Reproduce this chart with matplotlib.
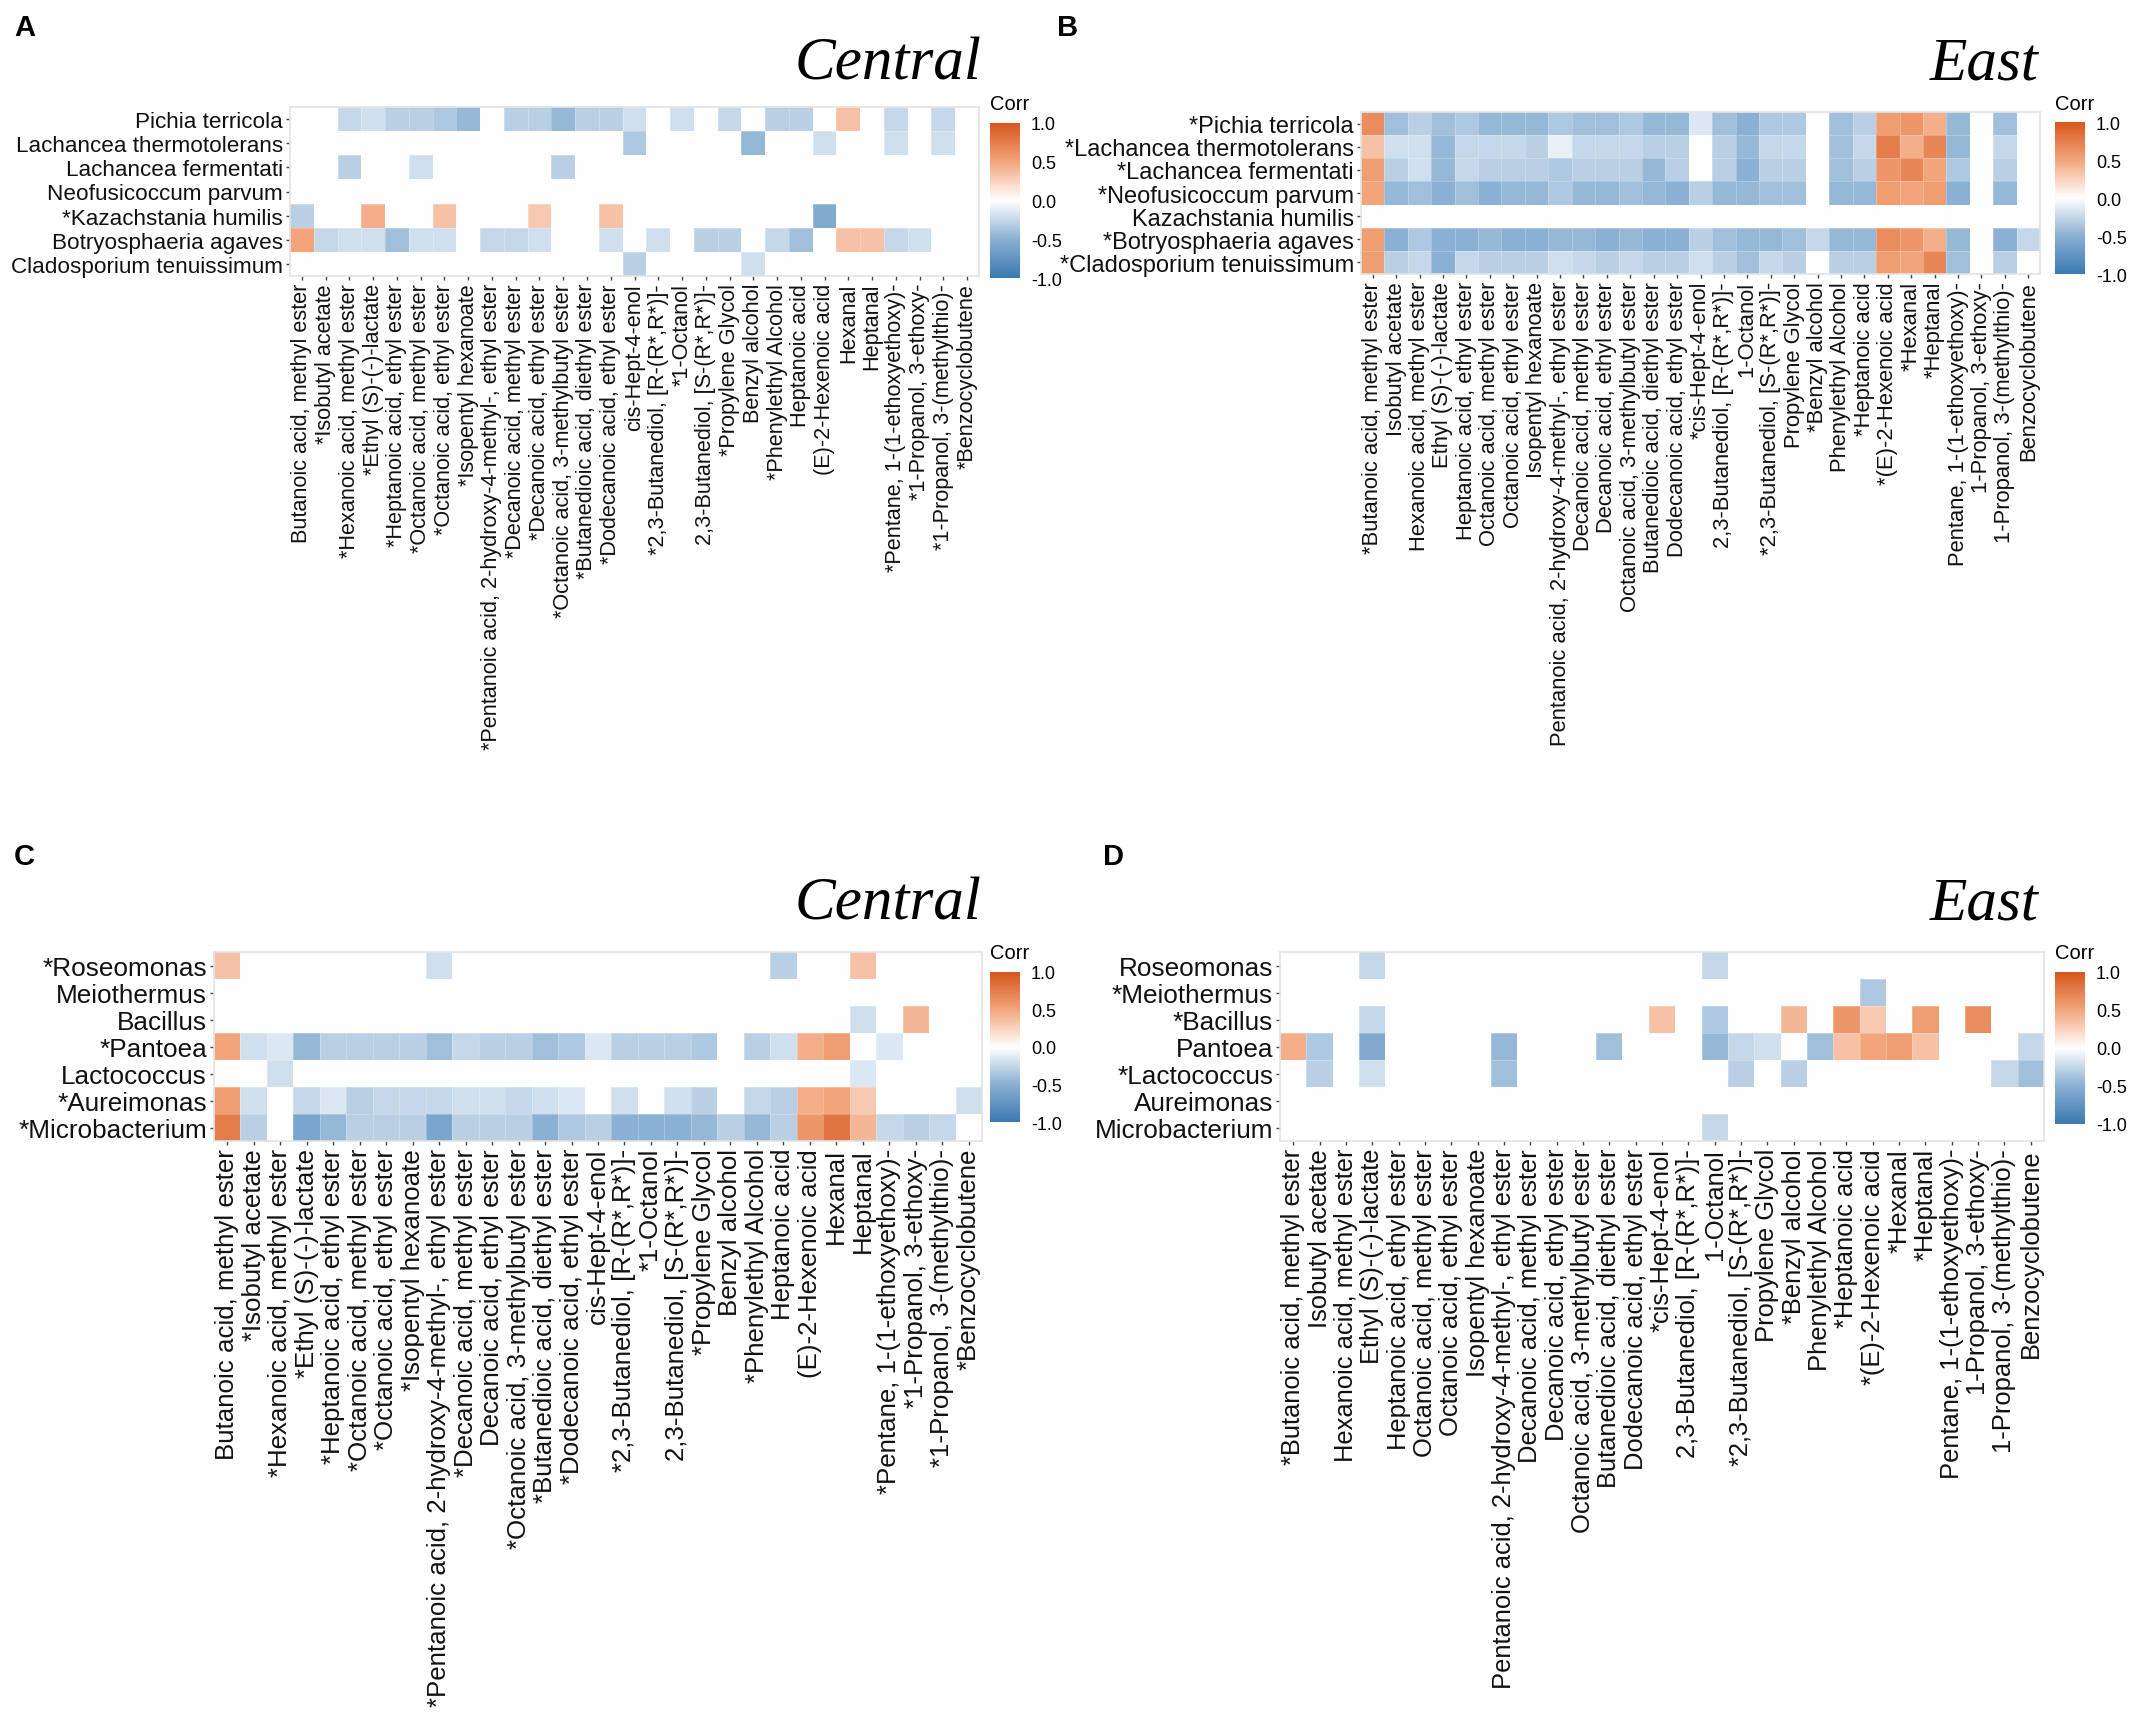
import numpy as np
import matplotlib
matplotlib.use("Agg")
import matplotlib.pyplot as plt
from matplotlib.colors import LinearSegmentedColormap

# ---------------- data ----------------
compounds_A = ["Butanoic acid, methyl ester", "*Isobutyl acetate", "*Hexanoic acid, methyl ester",
               "*Ethyl (S)-(-)-lactate", "*Heptanoic acid, ethyl ester", "*Octanoic acid, methyl ester",
               "*Octanoic acid, ethyl ester", "*Isopentyl hexanoate",
               "*Pentanoic acid, 2-hydroxy-4-methyl-, ethyl ester", "*Decanoic acid, methyl ester",
               "*Decanoic acid, ethyl ester", "*Octanoic acid, 3-methylbutyl ester",
               "*Butanedioic acid, diethyl ester", "*Dodecanoic acid, ethyl ester", "cis-Hept-4-enol",
               "*2,3-Butanediol, [R-(R*,R*)]-", "*1-Octanol", "2,3-Butanediol, [S-(R*,R*)]-",
               "*Propylene Glycol", "Benzyl alcohol", "*Phenylethyl Alcohol", "Heptanoic acid",
               "(E)-2-Hexenoic acid", "Hexanal", "Heptanal", "*Pentane, 1-(1-ethoxyethoxy)-",
               "*1-Propanol, 3-ethoxy-", "*1-Propanol, 3-(methylthio)-", "*Benzocyclobutene"]
compounds_B = ["*Butanoic acid, methyl ester", "Isobutyl acetate", "Hexanoic acid, methyl ester",
               "Ethyl (S)-(-)-lactate", "Heptanoic acid, ethyl ester", "Octanoic acid, methyl ester",
               "Octanoic acid, ethyl ester", "Isopentyl hexanoate",
               "Pentanoic acid, 2-hydroxy-4-methyl-, ethyl ester", "Decanoic acid, methyl ester",
               "Decanoic acid, ethyl ester", "Octanoic acid, 3-methylbutyl ester",
               "Butanedioic acid, diethyl ester", "Dodecanoic acid, ethyl ester", "*cis-Hept-4-enol",
               "2,3-Butanediol, [R-(R*,R*)]-", "1-Octanol", "*2,3-Butanediol, [S-(R*,R*)]-",
               "Propylene Glycol", "*Benzyl alcohol", "Phenylethyl Alcohol", "*Heptanoic acid",
               "*(E)-2-Hexenoic acid", "*Hexanal", "*Heptanal", "Pentane, 1-(1-ethoxyethoxy)-",
               "1-Propanol, 3-ethoxy-", "1-Propanol, 3-(methylthio)-", "Benzocyclobutene"]
compounds_C = ["Butanoic acid, methyl ester", "*Isobutyl acetate", "*Hexanoic acid, methyl ester",
               "*Ethyl (S)-(-)-lactate", "*Heptanoic acid, ethyl ester", "*Octanoic acid, methyl ester",
               "*Octanoic acid, ethyl ester", "*Isopentyl hexanoate",
               "*Pentanoic acid, 2-hydroxy-4-methyl-, ethyl ester", "*Decanoic acid, methyl ester",
               "Decanoic acid, ethyl ester", "*Octanoic acid, 3-methylbutyl ester",
               "*Butanedioic acid, diethyl ester", "*Dodecanoic acid, ethyl ester", "cis-Hept-4-enol",
               "*2,3-Butanediol, [R-(R*,R*)]-", "*1-Octanol", "2,3-Butanediol, [S-(R*,R*)]-",
               "*Propylene Glycol", "Benzyl alcohol", "*Phenylethyl Alcohol", "Heptanoic acid",
               "(E)-2-Hexenoic acid", "Hexanal", "Heptanal", "*Pentane, 1-(1-ethoxyethoxy)-",
               "*1-Propanol, 3-ethoxy-", "*1-Propanol, 3-(methylthio)-", "*Benzocyclobutene"]
compounds_D = list(compounds_B)

fungi_A = ["Pichia terricola", "Lachancea thermotolerans", "Lachancea fermentati", "Neofusicoccum parvum",
           "*Kazachstania humilis", "Botryosphaeria agaves", "Cladosporium tenuissimum"]
fungi_B = ["*Pichia terricola", "*Lachancea thermotolerans", "*Lachancea fermentati", "*Neofusicoccum parvum",
           "Kazachstania humilis", "*Botryosphaeria agaves", "*Cladosporium tenuissimum"]
bacteria_C = ["*Roseomonas", "Meiothermus", "Bacillus", "*Pantoea", "Lactococcus", "*Aureimonas", "*Microbacterium"]
bacteria_D = ["Roseomonas", "*Meiothermus", "*Bacillus", "Pantoea", "*Lactococcus", "Aureimonas", "Microbacterium"]

corr_A = [
    [0, 0, -0.25, -0.2, -0.3, -0.3, -0.35, -0.45, 0, -0.3, -0.3, -0.45, -0.3, -0.3, -0.2, 0, -0.2, 0, -0.25, 0, -0.3, -0.3, 0, 0.35, 0, -0.25, 0, -0.25, 0],
    [0, 0, 0, 0, 0, 0, 0, 0, 0, 0, 0, 0, 0, 0, -0.35, 0, 0, 0, 0, -0.45, 0, 0, -0.2, 0, 0, -0.2, 0, -0.2, 0],
    [0, 0, -0.3, 0, 0, -0.2, 0, 0, 0, 0, 0, -0.3, 0, 0, 0, 0, 0, 0, 0, 0, 0, 0, 0, 0, 0, 0, 0, 0, 0],
    [0] * 29,
    [-0.3, 0, 0, 0.45, 0, 0, 0.35, 0, 0, 0, 0.3, 0, 0, 0.35, 0, 0, 0, 0, 0, 0, 0, 0, -0.55, 0, 0, 0, 0, 0, 0],
    [0.5, -0.25, -0.2, -0.2, -0.4, -0.2, -0.2, 0, -0.25, -0.25, -0.2, 0, 0, -0.2, 0, -0.2, 0, -0.3, -0.3, 0, -0.25, -0.4, 0, 0.35, 0.35, -0.25, -0.2, 0, 0],
    [0, 0, 0, 0, 0, 0, 0, 0, 0, 0, 0, 0, 0, 0, -0.3, 0, 0, 0, 0, -0.2, 0, 0, 0, 0, 0, 0, 0, 0, 0],
]
corr_B = [
    [0.65, -0.4, -0.3, -0.4, -0.35, -0.45, -0.45, -0.45, -0.35, -0.4, -0.4, -0.35, -0.45, -0.45, -0.15, -0.4, -0.5, -0.35, -0.35, 0, -0.4, -0.3, 0.55, 0.6, 0.45, -0.45, 0, -0.4, 0],
    [0.35, -0.2, -0.2, -0.45, -0.25, -0.25, -0.25, -0.3, -0.1, -0.25, -0.25, -0.25, -0.3, -0.3, 0, -0.3, -0.45, -0.25, -0.25, 0, -0.4, -0.25, 0.75, 0.45, 0.7, -0.45, 0, -0.25, 0],
    [0.55, -0.3, -0.2, -0.45, -0.25, -0.3, -0.3, -0.3, -0.35, -0.3, -0.3, -0.3, -0.45, -0.3, 0, -0.3, -0.5, -0.3, -0.3, 0, -0.4, -0.3, 0.6, 0.7, 0.5, -0.35, 0, -0.3, 0],
    [0.5, -0.45, -0.4, -0.5, -0.4, -0.5, -0.45, -0.45, -0.35, -0.45, -0.45, -0.4, -0.45, -0.5, -0.3, -0.45, -0.45, -0.4, -0.4, 0, -0.45, -0.45, 0.55, 0.5, 0.55, -0.5, 0, -0.45, 0],
    [0] * 29,
    [0.55, -0.5, -0.35, -0.5, -0.5, -0.45, -0.5, -0.5, -0.45, -0.45, -0.5, -0.45, -0.5, -0.5, -0.3, -0.4, -0.45, -0.45, -0.4, -0.25, -0.45, -0.45, 0.65, 0.6, 0.45, -0.45, 0, -0.5, -0.25],
    [0.55, -0.3, -0.25, -0.5, -0.25, -0.3, -0.3, -0.3, -0.2, -0.25, -0.3, -0.25, -0.3, -0.3, -0.2, -0.3, -0.4, -0.25, -0.3, 0, -0.3, -0.3, 0.55, 0.5, 0.7, -0.4, 0, -0.3, 0],
]
corr_C = [
    [0.35, 0, 0, 0, 0, 0, 0, 0, -0.2, 0, 0, 0, 0, 0, 0, 0, 0, 0, 0, 0, 0, -0.3, 0, 0, 0.35, 0, 0, 0, 0],
    [0] * 29,
    [0, 0, 0, 0, 0, 0, 0, 0, 0, 0, 0, 0, 0, 0, 0, 0, 0, 0, 0, 0, 0, 0, 0, 0, -0.2, 0, 0.4, 0, 0],
    [0.5, -0.2, -0.15, -0.45, -0.3, -0.3, -0.3, -0.3, -0.4, -0.25, -0.3, -0.3, -0.4, -0.35, -0.15, -0.3, -0.3, -0.3, -0.35, 0, -0.3, -0.2, 0.45, 0.55, 0, -0.15, 0, 0, 0],
    [0, 0, -0.2, 0, 0, 0, 0, 0, 0, 0, 0, 0, 0, 0, 0, 0, 0, 0, 0, 0, 0, 0, 0, 0, -0.15, 0, 0, 0, 0],
    [0.55, -0.2, 0, -0.25, -0.15, -0.3, -0.25, -0.25, -0.25, -0.2, -0.2, -0.25, -0.2, -0.15, 0, -0.2, 0, -0.2, -0.3, 0, -0.25, -0.3, 0.45, 0.5, 0.3, 0, 0, 0, -0.2],
    [0.75, -0.3, 0, -0.6, -0.45, -0.3, -0.3, -0.3, -0.6, -0.3, -0.3, -0.3, -0.5, -0.35, -0.3, -0.5, -0.5, -0.5, -0.45, -0.3, -0.45, -0.3, 0.6, 0.8, 0.4, -0.25, -0.3, -0.25, 0],
]
corr_D = [
    [0, 0, 0, -0.25, 0, 0, 0, 0, 0, 0, 0, 0, 0, 0, 0, 0, -0.25, 0, 0, 0, 0, 0, 0, 0, 0, 0, 0, 0, 0],
    [0, 0, 0, 0, 0, 0, 0, 0, 0, 0, 0, 0, 0, 0, 0, 0, 0, 0, 0, 0, 0, 0, -0.35, 0, 0, 0, 0, 0, 0],
    [0, 0, 0, -0.25, 0, 0, 0, 0, 0, 0, 0, 0, 0, 0, 0.35, 0, -0.35, 0, 0, 0.4, 0, 0.6, 0.3, 0, 0.55, 0, 0.65, 0, 0],
    [0.45, -0.35, 0, -0.55, 0, 0, 0, 0, -0.45, 0, 0, 0, -0.4, 0, 0, 0, -0.45, -0.25, -0.2, 0, -0.4, 0.35, 0.5, 0.55, 0.35, 0, 0, 0, -0.25],
    [0, -0.3, 0, -0.2, 0, 0, 0, 0, -0.4, 0, 0, 0, 0, 0, 0, 0, 0, -0.3, 0, -0.3, 0, 0, 0, 0, 0, 0, 0, -0.25, -0.4],
    [0] * 29,
    [0, 0, 0, 0, 0, 0, 0, 0, 0, 0, 0, 0, 0, 0, 0, 0, -0.25, 0, 0, 0, 0, 0, 0, 0, 0, 0, 0, 0, 0],
]

cbar_ticks = [1.0, 0.5, 0.0, -0.5, -1.0]

# ---------------- styling ----------------
W, H = 2131, 1724
fig = plt.figure(figsize=(W / 100, H / 100), dpi=100)
fig.patch.set_facecolor("white")

cmap = LinearSegmentedColormap.from_list(
    "corr", [(0.0, "#3B79B1"), (0.25, "#8AB0D3"), (0.5, "#FFFFFF"), (0.75, "#F2A67C"), (1.0, "#D6561D")])

SANS = ["Liberation Sans", "DejaVu Sans"]
SERIF = ["Liberation Serif", "DejaVu Serif"]


def add_ax(x0, y0, x1, y1):
    return fig.add_axes([x0 / W, 1 - y1 / H, (x1 - x0) / W, (y1 - y0) / H])


def heat(box, data, rows, cols, xfs, yfs, cbox, title, title_pos, letter, letter_pos, corr_pos):
    ax = add_ax(*box)
    arr = np.array(data, dtype=float)
    ax.pcolormesh(np.arange(arr.shape[1] + 1), np.arange(arr.shape[0] + 1), arr,
                  cmap=cmap, vmin=-1, vmax=1, edgecolors=(1, 1, 1, 0.25), linewidth=0.6)
    ax.set_xlim(0, arr.shape[1])
    ax.set_ylim(arr.shape[0], 0)
    ax.set_xticks(np.arange(arr.shape[1]) + 0.5)
    ax.set_yticks(np.arange(arr.shape[0]) + 0.5)
    ax.set_xticklabels(cols, rotation=90, ha="center", va="top", fontsize=xfs, family=SANS, color="#111111")
    ax.set_yticklabels(rows, fontsize=yfs, family=SANS, color="#111111")
    ax.tick_params(length=3, width=1, color="#444444", pad=2)
    for s in ax.spines.values():
        s.set_color("#E3E3E3")
        s.set_linewidth(1.2)
    # colorbar
    cax = add_ax(*cbox)
    sm = plt.cm.ScalarMappable(cmap=cmap, norm=plt.Normalize(-1, 1))
    cb = fig.colorbar(sm, cax=cax)
    cb.set_ticks(cbar_ticks)
    cb.set_ticklabels([f"{t:.1f}" for t in cbar_ticks])
    cb.outline.set_visible(False)
    cax.tick_params(length=0, pad=8, labelsize=13)
    for t in cax.get_yticklabels():
        t.set_family(SANS)
    fig.text(corr_pos[0] / W, 1 - corr_pos[1] / H, "Corr", ha="left", va="center", fontsize=14.5, family=SANS)
    fig.text(title_pos[0] / W, 1 - title_pos[1] / H, title, ha="right", va="baseline",
             fontsize=44, family=SERIF, style="italic")
    fig.text(letter_pos[0] / W, 1 - letter_pos[1] / H, letter, ha="left", va="top",
             fontsize=21, family=SANS, weight="bold")
    return ax


heat((290, 108, 979, 277), corr_A, fungi_A, compounds_A, 15.6, 16.2,
     (990, 124, 1020, 279), "Central", (981, 80), "A", (14, 14), (990, 104))
heat((1361, 113, 2040, 275), corr_B, fungi_B, compounds_B, 15.8, 17,
     (2055, 123, 2085, 275), "East", (2038, 80), "B", (1057, 14), (2055, 104))
heat((214, 953, 982, 1142), corr_C, bacteria_C, compounds_C, 18.6, 18.8,
     (990, 973, 1020, 1123), "Central", (981, 920), "C", (14, 843), (990, 954))
heat((1280, 953, 2044, 1142), corr_D, bacteria_D, compounds_D, 18.4, 18.8,
     (2055, 973, 2085, 1125), "East", (2038, 920), "D", (1103, 843), (2055, 954))

fig.savefig("out.png", dpi=100, facecolor="white")
